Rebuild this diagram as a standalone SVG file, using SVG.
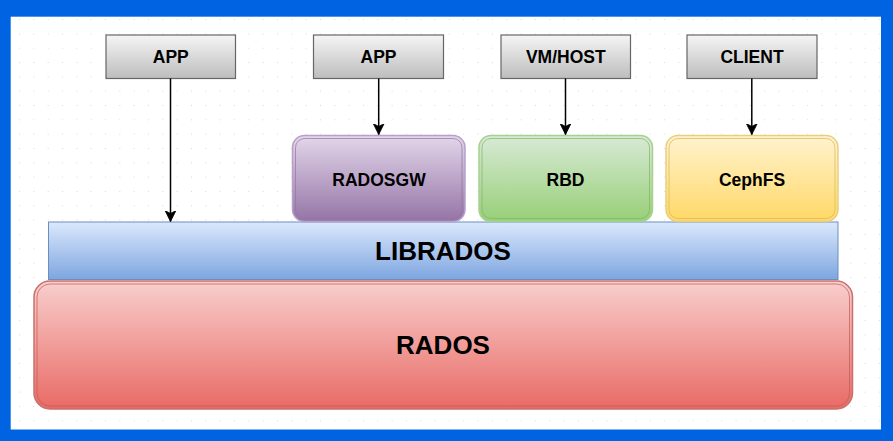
<svg xmlns="http://www.w3.org/2000/svg" width="893" height="441" viewBox="0 0 893 441">
<style>
.t{font-family:"Liberation Sans",Arial,sans-serif;font-weight:bold;fill:#000;text-anchor:middle;dominant-baseline:central}
.s{font-size:17.5px}
.l{font-size:26px}
.c{stroke:#000;stroke-width:1.5;fill:none}
</style>
<defs>
<pattern id="grid" x="5.67" y="5.67" width="14.33" height="14.33" patternUnits="userSpaceOnUse">
<rect x="13.5" y="13.5" width="1.5" height="1.5" fill="#c8c8c8"/>
</pattern>
<linearGradient id="gGray" x1="0" y1="0" x2="0" y2="1"><stop offset="0" stop-color="#f5f5f5"/><stop offset="1" stop-color="#bdbdbd"/></linearGradient>
<linearGradient id="gPurple" x1="0" y1="0" x2="0" y2="1"><stop offset="0" stop-color="#e3d7ea"/><stop offset="1" stop-color="#9474a6"/></linearGradient>
<linearGradient id="gGreen" x1="0" y1="0" x2="0" y2="1"><stop offset="0" stop-color="#d8ead6"/><stop offset="1" stop-color="#97cf77"/></linearGradient>
<linearGradient id="gYellow" x1="0" y1="0" x2="0" y2="1"><stop offset="0" stop-color="#fff3cf"/><stop offset="1" stop-color="#ffd866"/></linearGradient>
<linearGradient id="gBlue" x1="0" y1="0" x2="0" y2="1"><stop offset="0" stop-color="#dbe8fc"/><stop offset="1" stop-color="#7ea6e0"/></linearGradient>
<linearGradient id="gRed" x1="0" y1="0" x2="0" y2="1"><stop offset="0" stop-color="#f8cfcd"/><stop offset="1" stop-color="#e96a65"/></linearGradient>
<marker id="arr" viewBox="0 0 12 12" refX="11" refY="6" markerWidth="12" markerHeight="12" markerUnits="userSpaceOnUse" orient="auto">
<path d="M0,0.5 L11,6 L0,11.5 L3,6 Z" fill="#000" stroke="#000" stroke-width="0.8"/>
</marker>
</defs>
<rect x="0" y="0" width="893" height="441" fill="#0063e2"/>
<rect x="10.7" y="16.7" width="870.3" height="412.8" fill="#ffffff"/>
<rect x="10.7" y="16.7" width="870.3" height="412.8" fill="url(#grid)"/>

<g id="rados">
<rect x="34" y="281" width="818.5" height="128" rx="16" fill="url(#gRed)" stroke="#c9706c" stroke-width="1.5"/>
<rect x="37" y="284" width="812.5" height="122" rx="13" fill="none" stroke="#c05a56" stroke-width="1" stroke-opacity="0.7"/>
<text class="t l" x="443" y="345">RADOS</text>
</g>
<g id="librados">
<rect x="48.5" y="222" width="789.5" height="57.5" fill="url(#gBlue)" stroke="#6c8ebf" stroke-width="1"/>
<text class="t l" x="443" y="251">LIBRADOS</text>
</g>

<g id="radosgw">
<rect x="292.5" y="135.5" width="172.5" height="86" rx="12" fill="url(#gPurple)" stroke="#b9a0c8" stroke-width="1.5"/>
<rect x="295.5" y="138.5" width="166.5" height="80" rx="9" fill="none" stroke="#9673a6" stroke-width="1" stroke-opacity="0.7"/>
<text class="t s" x="379" y="180">RADOSGW</text>
</g>
<g id="rbd">
<rect x="479" y="135.5" width="173.5" height="86" rx="12" fill="url(#gGreen)" stroke="#a6d18e" stroke-width="1.5"/>
<rect x="482" y="138.5" width="167.5" height="80" rx="9" fill="none" stroke="#82b366" stroke-width="1" stroke-opacity="0.7"/>
<text class="t s" x="565.5" y="180">RBD</text>
</g>
<g id="cephfs">
<rect x="666" y="135.5" width="172" height="86" rx="12" fill="url(#gYellow)" stroke="#e8cf80" stroke-width="1.5"/>
<rect x="669" y="138.5" width="166" height="80" rx="9" fill="none" stroke="#d6b656" stroke-width="1" stroke-opacity="0.7"/>
<text class="t s" x="752" y="180">CephFS</text>
</g>

<g id="app1">
<rect x="106" y="35" width="129.5" height="43.5" fill="url(#gGray)" stroke="#666" stroke-width="1.2"/>
<text class="t s" x="170.8" y="56.8">APP</text>
</g>
<g id="app2">
<rect x="313.5" y="35" width="130" height="43.5" fill="url(#gGray)" stroke="#666" stroke-width="1.2"/>
<text class="t s" x="378.5" y="56.8">APP</text>
</g>
<g id="vmhost">
<rect x="501" y="35" width="129.5" height="43.5" fill="url(#gGray)" stroke="#666" stroke-width="1.2"/>
<text class="t s" x="565.8" y="56.8">VM/HOST</text>
</g>
<g id="client">
<rect x="687" y="35" width="130" height="43.5" fill="url(#gGray)" stroke="#666" stroke-width="1.2"/>
<text class="t s" x="752" y="56.8">CLIENT</text>
</g>

<g id="connectors">
<line class="c" x1="170.5" y1="78.5" x2="170.5" y2="221.5" marker-end="url(#arr)"/>
<line class="c" x1="378.7" y1="78.5" x2="378.7" y2="134.5" marker-end="url(#arr)"/>
<line class="c" x1="565.5" y1="78.5" x2="565.5" y2="134.5" marker-end="url(#arr)"/>
<line class="c" x1="751.8" y1="78.5" x2="751.8" y2="134.5" marker-end="url(#arr)"/>
</g>
</svg>
